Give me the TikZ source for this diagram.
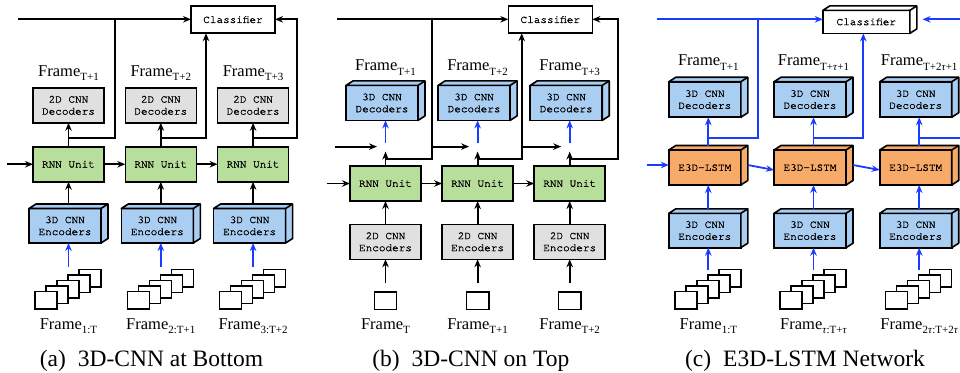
\documentclass[tikz,border=0pt]{standalone}
\usepackage{fontspec}
\setmainfont{Liberation Serif}
\newfontfamily\monof[FakeBold=1.3]{TeX Gyre Cursor}
\usetikzlibrary{arrows.meta}
\definecolor{boxblue}{RGB}{170,205,242}
\definecolor{boxgreen}{RGB}{184,222,156}
\definecolor{boxgray}{RGB}{224,224,224}
\definecolor{boxorange}{RGB}{248,170,104}
\definecolor{arrblue}{RGB}{25,60,255}
\newcommand{\frsub}[1]{\raisebox{-4.5pt}{\fontsize{11}{11}\selectfont #1}}
\newcommand{\cubefaces}[2]{%
  \draw[fill=#2, line width=1.6pt, line join=round]
    (#1.north west) -- ++(7,-4.5) -- ([shift={(7,-4.5)}]#1.north east)
    -- ([shift={(7,-4.5)}]#1.south east) -- (#1.south east) -- (#1.north east) -- cycle;
  \draw[line width=1.6pt] (#1.north east) -- ++(7,-4.5);
}
\newcommand{\framestack}[2]{%
  \foreach \k in {4,3,2,1,0} {
    \node[frm] (#1\k) at ({#2-22.5+11*\k},{300-5.5*\k}) {};
  }
}
\tikzset{
  box/.style={draw, line width=1.6pt, minimum width=71pt, minimum height=35pt,
    inner sep=0pt, outer sep=0pt, align=center,
    font={\monof\fontsize{11}{12}\selectfont}},
  lbl/.style={font={\fontsize{16.5}{18}\selectfont}, inner sep=0pt, anchor=base},
  captxt/.style={font={\fontsize{23.5}{25}\selectfont}, inner sep=0pt, anchor=base},
  arr/.style={-{Stealth[length=8pt,width=6.5pt]}, line width=1.8pt},
  barr/.style={arr, draw=arrblue},
  plain/.style={line width=1.8pt},
  bplain/.style={plain, draw=arrblue},
  frm/.style={draw, fill=white, line width=1.5pt, minimum width=22pt,
    minimum height=17.5pt, inner sep=0pt, outer sep=0pt},
}
\begin{document}
\begin{tikzpicture}[x=1pt, y=-1pt]
\clip (0,0) rectangle (960,372);
\fill[white] (0,0) rectangle (960,372);

%%%%%%%%%%%%%%%% (a)
\node[box, minimum width=84pt, minimum height=27pt] (ca) at (233,19.7) {Classifier};
\foreach \i/\x/\s in {1/68.5/T+1, 2/160.8/T+2, 3/253.1/T+3} {
  \node[lbl] (atl\i) at (\x,76) {Frame\frsub{\s}};
  \node[box, fill=boxgray] (ad\i) at (\x,105.3) {2D CNN\\Decoders};
  \node[box, fill=boxgreen] (ar\i) at (\x,164.25) {RNN Unit};
  \node[box, fill=boxblue, minimum width=72pt, minimum height=34.5pt] (ae\i) at (\x-3.5,225.75) {3D CNN\\Encoders};
  \cubefaces{ae\i}{boxblue}
  \framestack{as\i-}{\x}
  \coordinate (atail\i) at (\x,266.5);
  \draw[barr] (atail\i) -- ([xshift=3.5]ae\i.south);
  \draw[arr] ([shift={(3.5,-4.5)}]ae\i.north) -- (ar\i.south);
  \draw[arr] (ar\i.north) -- (ad\i.south);
}
\node[lbl] (abl1) at (68.5,329) {Frame\frsub{1:T}};
\node[lbl] (abl2) at (160.8,329) {Frame\frsub{2:T+1}};
\node[lbl] (abl3) at (253.1,329) {Frame\frsub{3:T+2}};
\coordinate (ain) at (18.3,19.3);
\coordinate (ari) at (7,164.25);
\coordinate (av1) at (115,138.3);
\coordinate (av2) at (206,138.3);
\coordinate (av3) at (296.7,138.3);
\draw[arr] (ain) -- (ain -| ca.west);
\draw[plain] (ar1.north |- av1) -- (av1) -- (av1 |- ain);
\draw[arr] (ar2.north |- av2) -- (av2) -- (av2 |- ca.south);
\draw[arr] (ar3.north |- av3) -- (av3) -- (av3 |- ain) -- (ca.east |- ain);
\draw[arr] (ari) -- (ar1.west);
\draw[arr] (ar1.east) -- (ar2.west);
\draw[arr] (ar2.east) -- (ar3.west);
\node[captxt] (capa) at (151.5,366) {(a)\hspace{12pt}3D-CNN at Bottom};

%%%%%%%%%%%%%%%% (b)
\node[box, minimum width=84pt, minimum height=27pt] (cb) at (550.3,19.7) {Classifier};
\foreach \i/\x/\s/\t in {1/385.5/T+1/T, 2/477.6/T+2/T+1, 3/569.7/T+3/T+2} {
  \node[lbl] (btl\i) at (\x,70.7) {Frame\frsub{\s}};
  \node[box, fill=boxblue, minimum width=72pt] (bd\i) at (\x-3.5,102.9) {3D CNN\\Decoders};
  \cubefaces{bd\i}{boxblue}
  \node[box, fill=boxgreen] (br\i) at (\x,183.5) {RNN Unit};
  \node[box, fill=boxgray] (be\i) at (\x,241.8) {2D CNN\\Encoders};
  \node[frm, minimum width=22.4pt, minimum height=17.3pt] (bf\i) at (\x,300.6) {};
  \node[lbl] (bbl\i) at (\x,329.3) {Frame\frsub{\t}};
  \coordinate (bj\i) at (\x,146.6);
  \draw[arr, shorten <=8.7pt] (bf\i.north) -- (be\i.south);
  \draw[arr] (be\i.north) -- (br\i.south);
  \draw[arr, shorten >=5pt] (br\i.north) -- (bj\i);
  \draw[barr, shorten <=3.5pt] (bj\i) -- (bj\i |- bd\i.south);
}
\coordinate (bin) at (336.7,19.3);
\coordinate (bh1) at (335,146.6);
\coordinate (bri) at (327,183.5);
\coordinate (bv1) at (431.7,159.3);
\coordinate (bv2) at (521.7,159.3);
\coordinate (bv3) at (617.7,159.3);
\draw[arr] (bin) -- (bin -| cb.west);
\draw[arr, shorten >=8.5pt] (bh1) -- (bj1);
\draw[plain] (bj1 |- bv1) -- (bv1) -- (bv1 |- bin);
\draw[arr, shorten >=8.5pt] (bv1 |- bj2) -- (bj2);
\draw[arr] (bj2 |- bv2) -- (bv2) -- (bv2 |- cb.south);
\draw[arr, shorten >=8.5pt] (bv2 |- bj3) -- (bj3);
\draw[arr] (bj3 |- bv3) -- (bv3) -- (bv3 |- bin) -- (cb.east |- bin);
\draw[arr] (bri) -- (br1.west);
\draw[arr] (br1.east) -- (br2.west);
\draw[arr] (br2.east) -- (br3.west);
\node[captxt] (capb) at (470.8,366) {(b)\hspace{12pt}3D-CNN on Top};

%%%%%%%%%%%%%%%% (c)
\node[box, minimum width=87pt, minimum height=23pt] (cc) at (866.3,21.9) {Classifier};
\cubefaces{cc}{white}
\foreach \i/\x in {1/708.3, 2/813.5, 3/919.2} {
  \coordinate (ccol\i) at (\x,0);
  \node[box, fill=boxblue, minimum width=72pt, minimum height=35.5pt] (cd\i) at (\x-3.5,99.5) {3D CNN\\Decoders};
  \cubefaces{cd\i}{boxblue}
  \node[box, fill=boxorange, minimum width=72pt] (cx\i) at (\x-3.5,167.5) {E3D-LSTM};
  \cubefaces{cx\i}{boxorange}
  \node[box, fill=boxblue, minimum width=72pt, minimum height=34.4pt] (ce\i) at (\x-3.5,230.5) {3D CNN\\Encoders};
  \cubefaces{ce\i}{boxblue}
  \framestack{cs\i-}{\x}
  \coordinate (ctail\i) at (\x,269.5);
  \draw[barr] (ctail\i) -- ([xshift=3.5]ce\i.south);
  \draw[barr] ([shift={(3.5,-4.5)}]ce\i.north) -- ([xshift=3.5]cx\i.south);
  \draw[barr] ([shift={(3.5,-4.5)}]cx\i.north) -- ([xshift=3.5]cd\i.south);
}
\node[lbl] (ctl1) at (708.3,65.7) {Frame\frsub{T+1}};
\node[lbl] (ctl2) at (813.5,65.7) {Frame\frsub{T+\textit{τ}+1}};
\node[lbl] (ctl3) at (919.2,65.7) {Frame\frsub{T+2\textit{τ}+1}};
\node[lbl] (cbl1) at (708.3,329.3) {Frame\frsub{1:T}};
\node[lbl] (cbl2) at (813.5,329.3) {Frame\frsub{\textit{τ}:T+\textit{τ}}};
\node[lbl] (cbl3) at (919.2,329.3) {Frame\frsub{2\textit{τ}:T+2\textit{τ}}};
\coordinate (cin) at (656.7,19.3);
\coordinate (cri) at (646.7,165);
\coordinate (cv1) at (758.3,138.3);
\coordinate (cv2) at (863.3,138.3);
\coordinate (cv3) at (985,138.3);
\coordinate (cend) at (922.5,19.3);
\draw[barr] (cin) -- (cin -| cc.west);
\draw[bplain] (ccol1 |- cv1) -- (cv1) -- (cv1 |- cin);
\draw[barr] (ccol2 |- cv2) -- (cv2) -- (cv2 |- cc.south);
\draw[barr] (ccol3 |- cv3) -- (cv3) -- (cv3 |- cin) -- (cend);
\draw[barr] (cri) -- (cri -| cx1.west);
\draw[barr] ([shift={(7,-2.5)}]cx1.east) -- ([yshift=-2.5]cx2.west);
\draw[barr] ([shift={(7,-2.5)}]cx2.east) -- ([yshift=-2.5]cx3.west);
\node[captxt] (capc) at (805,366) {(c)\hspace{12pt}E3D-LSTM Network};
\end{tikzpicture}
\end{document}
